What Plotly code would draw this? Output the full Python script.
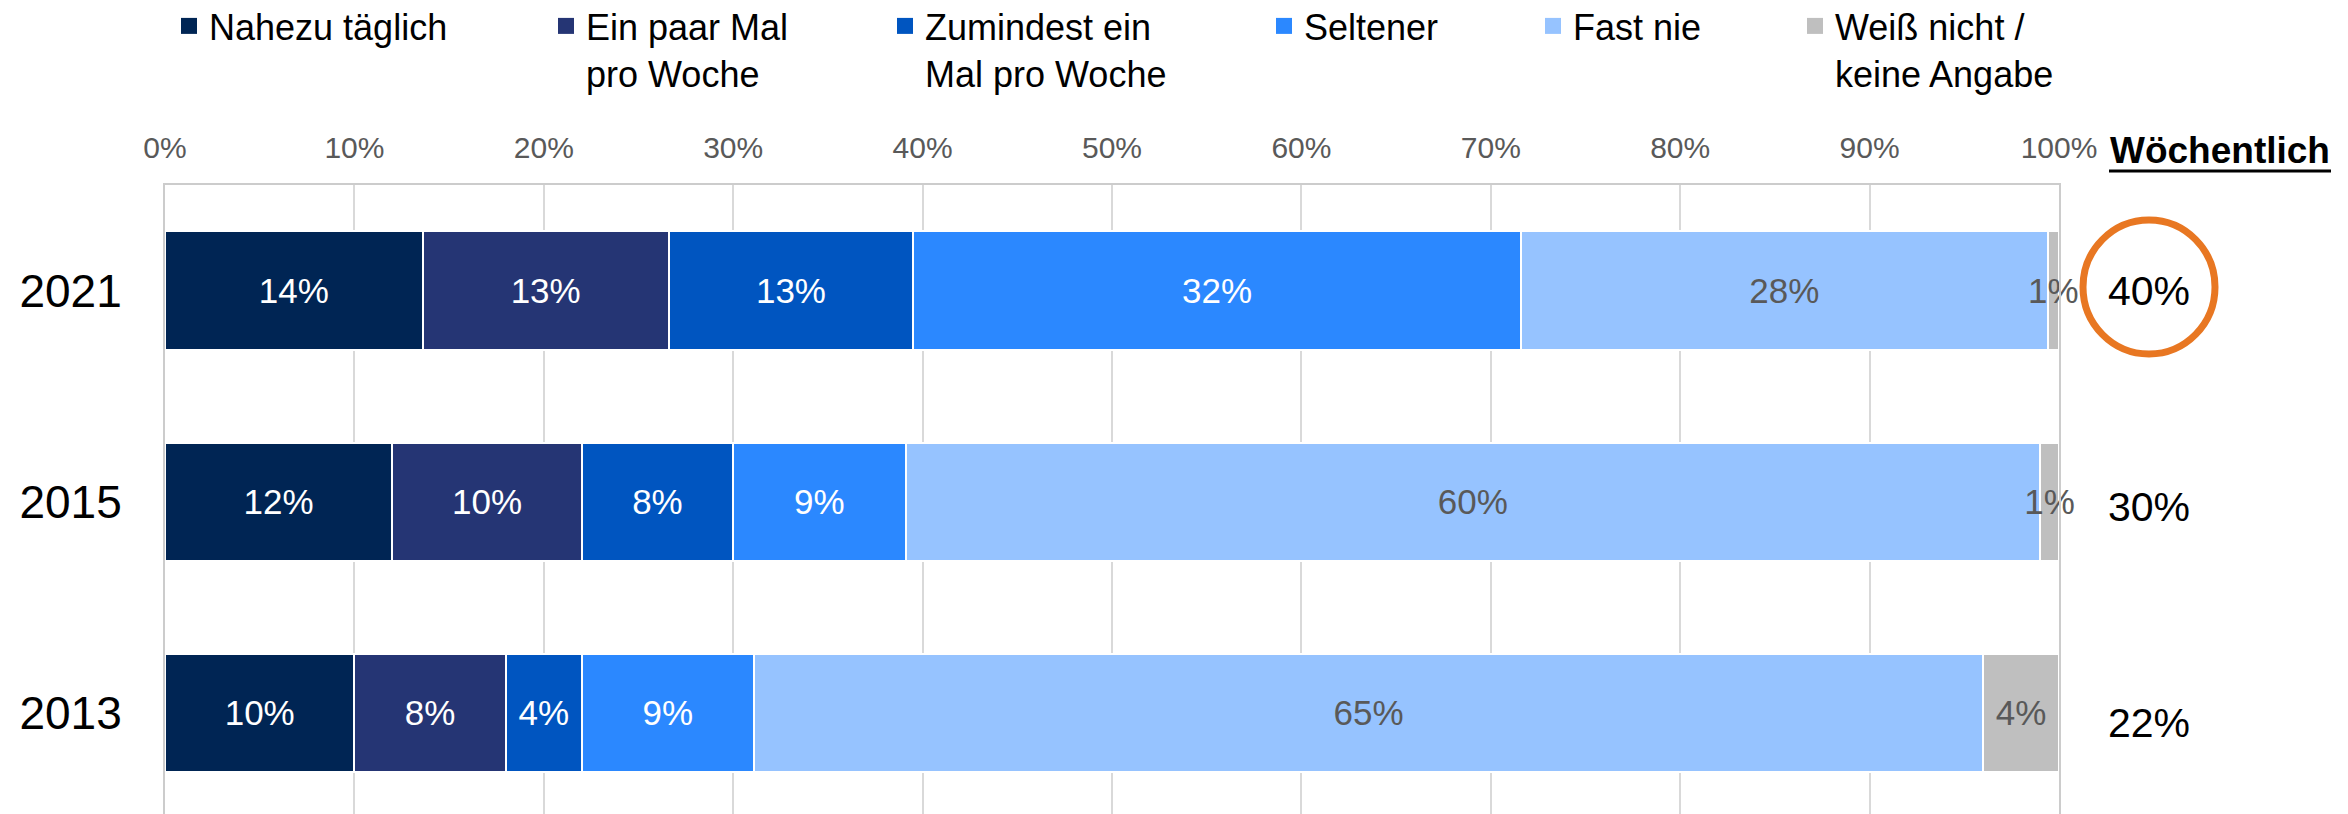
import plotly.graph_objects as go

# survey years (top to bottom in the chart)
years = ["2021", "2015", "2013"]

categories = [
    "Nahezu täglich",
    "Ein paar Mal<br>pro Woche",
    "Zumindest ein<br>Mal pro Woche",
    "Seltener",
    "Fast nie",
    "Weiß nicht /<br>keine Angabe",
]

# share in % per category, order matches years
nahezu_taeglich = [13.6, 12.0, 10.0]
paar_mal = [13.0, 10.0, 8.0]
zumindest_einmal = [12.9, 8.0, 4.0]
seltener = [32.1, 9.1, 9.1]
fast_nie = [27.8, 59.9, 64.9]
weiss_nicht = [0.6, 1.0, 4.0]

# weekly total shown to the right
woechentlich = [40, 30, 22]

series = [nahezu_taeglich, paar_mal, zumindest_einmal, seltener, fast_nie, weiss_nicht]
colors = ["#002554", "#253574", "#0055C0", "#2B88FF", "#96C3FF", "#BFBFBF"]
text_colors = ["white", "white", "white", "white", "#595959", "#595959"]

FONT = "Arial, Liberation Sans, sans-serif"

# the page body adds an 8px margin, so the figure is offset on screen
OFF = 8
W, H = 2348, 814
# plot area on screen: x 165..2059, y 185..814
L, T = 165 - OFF, 185 - OFF
R = W - (2059 - OFF)
B = H - (814 - OFF)
PW = 2059 - 165
PH = 814 - 185


def px_x(x):
    # screen x -> paper x
    return (x - 165) / PW


def px_y(y):
    # screen y -> paper y
    return (814 - y) / PH


legend_text_x = [208, 585, 924, 1303, 1572, 1834]

fig = go.Figure()
for i, (name, vals) in enumerate(zip(categories, series)):
    fig.add_trace(go.Bar(
        y=years,
        x=vals,
        name=name,
        orientation="h",
        marker=dict(color=colors[i], line=dict(color="white", width=2)),
        texttemplate="%{x:.0f}%",
        textposition="inside",
        insidetextanchor="middle",
        textangle=0,
        constraintext="none",
        cliponaxis=False,
        insidetextfont=dict(color=text_colors[i], size=35, family=FONT),
        showlegend=False,
        hoverinfo="skip",
    ))

# legend entries with bigger square swatches, one legend per entry
layout_legends = {}
for i, (name, tx) in enumerate(zip(categories, legend_text_x)):
    key = "legend" if i == 0 else f"legend{i + 1}"
    fig.add_trace(go.Scatter(
        x=[None], y=[None], mode="markers", name=name,
        marker=dict(symbol="square", size=16, color=colors[i]),
        legend=key, showlegend=True, hoverinfo="skip",
    ))
    layout_legends[key] = dict(
        x=px_x(tx - 39),
        xanchor="left",
        y=px_y(-4),
        yanchor="top",
        valign="top",
        bgcolor="rgba(0,0,0,0)",
        font=dict(size=36, color="black", family=FONT),
        orientation="h",
    )

# category index of each year on the y axis (2013 -> 0 at the bottom)
cat_order = years[::-1]
annotations = []
for yr, val, shift in zip(years, woechentlich, [0, -5, -10]):
    annotations.append(dict(
        x=px_x(2149), xref="paper", y=cat_order.index(yr), yref="y",
        text=f"{val}%", showarrow=False, xanchor="center", yshift=shift,
        font=dict(size=41, color="black", family=FONT),
    ))
annotations.append(dict(
    x=px_x(2220), xref="paper", y=px_y(150), yref="paper",
    text="<b>Wöchentlich</b>", showarrow=False, xanchor="center", yanchor="middle",
    font=dict(size=37, color="black", family=FONT),
))

fig.update_layout(
    width=W,
    height=H,
    barmode="stack",
    bargap=0.44,
    showlegend=True,
    plot_bgcolor="white",
    paper_bgcolor="white",
    margin=dict(l=L, r=R, t=T, b=B, autoexpand=False),
    font=dict(family=FONT),
    annotations=annotations,
    shapes=[
        dict(type="circle", xref="paper", yref="paper",
             x0=px_x(2083), x1=px_x(2215), y0=px_y(354), y1=px_y(220),
             line=dict(color="#E87722", width=7)),
        dict(type="line", xref="paper", yref="paper",
             x0=px_x(2109), x1=px_x(2331), y0=px_y(171), y1=px_y(171),
             line=dict(color="black", width=3)),
    ],
    **layout_legends,
)

fig.update_xaxes(
    side="top",
    range=[0, 100],
    dtick=10,
    ticksuffix="%",
    showgrid=True,
    gridcolor="#D9D9D9",
    gridwidth=2,
    zeroline=False,
    showline=True,
    linecolor="#CCCCCC",
    linewidth=2,
    ticks="",
    automargin=False,
    ticklabelstandoff=13,
    tickfont=dict(size=30, color="#595959", family=FONT),
)
fig.update_yaxes(
    type="category",
    categoryorder="array",
    categoryarray=cat_order,
    range=[-0.479, 2.5],
    showline=True,
    mirror=True,
    linecolor="#CCCCCC",
    linewidth=2,
    showgrid=False,
    ticks="",
    automargin=False,
    ticklabelstandoff=32,
    tickfont=dict(size=46, color="black", family=FONT),
)

fig.write_html("out.html")
